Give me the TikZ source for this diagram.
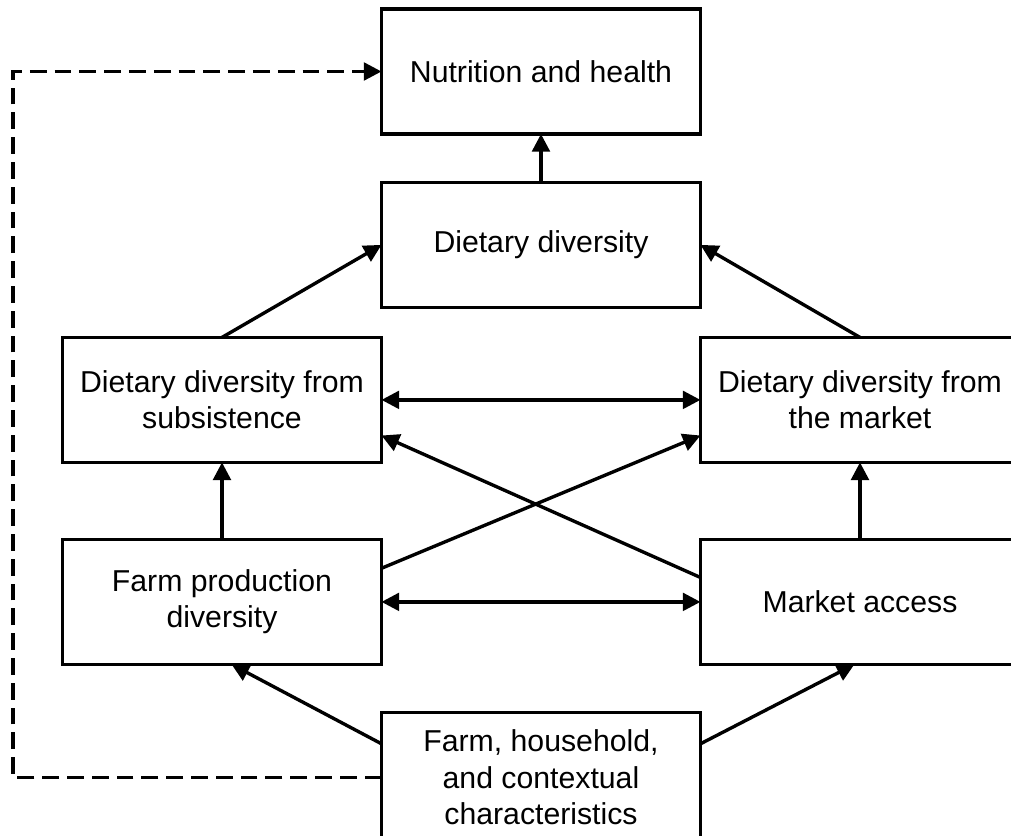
\documentclass[tikz,border=0pt]{standalone}
\usepackage{fontspec}
\setmainfont{Liberation Sans}
\usetikzlibrary{positioning,calc,arrows.meta}
\tikzset{block/.style={draw, line width=2.4pt, outer sep=0pt, minimum width=7.975cm, minimum height=3.125cm, align=center, font=\fontsize{21.5}{26}\selectfont},
% every box has the same size, only the bottom one is a bit taller
line/.style={->, line width=2.4pt},
% the dashed feedback path from the bottom box back to the top
dline/.style={line, dash pattern=on 0.42cm off 0.2cm},
>={Triangle[length=0.44cm,width=0.44cm]}
}
\begin{document}
\begin{tikzpicture}
    \clip (-13.525,1.7875) rectangle (11.75,-19.1125);
    \node[block] (nh) {Nutrition and health};
    \node[block,below=1.21cm of nh] (dd) {Dietary diversity};
    \node[block,below left=0.75cm and 0cm of dd] (sub) {Dietary diversity from\\subsistence};
    \node[block,below right=0.75cm and 0cm of dd] (mkt) {Dietary diversity from\\the market};
    \node[block,below=1.925cm of sub] (farm) {Farm production\\diversity};
    \node[block,below=1.925cm of mkt] (ma) {Market access};
    \node[block,minimum height=3.25cm,below right=1.2cm and 0cm of farm] (ctx) {Farm, household,\\and contextual\\characteristics};
    \coordinate (loop) at (-13.2,0);
    \draw[line] (dd) -- (nh);
    \draw[line] (sub.north) -- (dd.west);
    \draw[line] (mkt.north) -- (dd.east);
    \draw[line, <->] (sub) -- (mkt);
    \draw[line] (farm) -- (sub);
    \draw[line] (ma) -- (mkt);
    \draw[line, <->] (farm) -- (ma);
    \draw[line] ([yshift=0.84cm]farm.east) -- ([yshift=-0.89cm]mkt.west);
    \draw[line] ([yshift=0.61cm]ma.west) -- ([yshift=-0.89cm]sub.east);
    \draw[line] ([yshift=0.84cm]ctx.west) -- ([xshift=0.24cm]farm.south);
    \draw[line] ([yshift=0.84cm]ctx.east) -- ([xshift=-0.14cm]ma.south);
    \draw[dline] (ctx.west) -| (loop) -- (nh.west);
  \end{tikzpicture}
\end{document}
